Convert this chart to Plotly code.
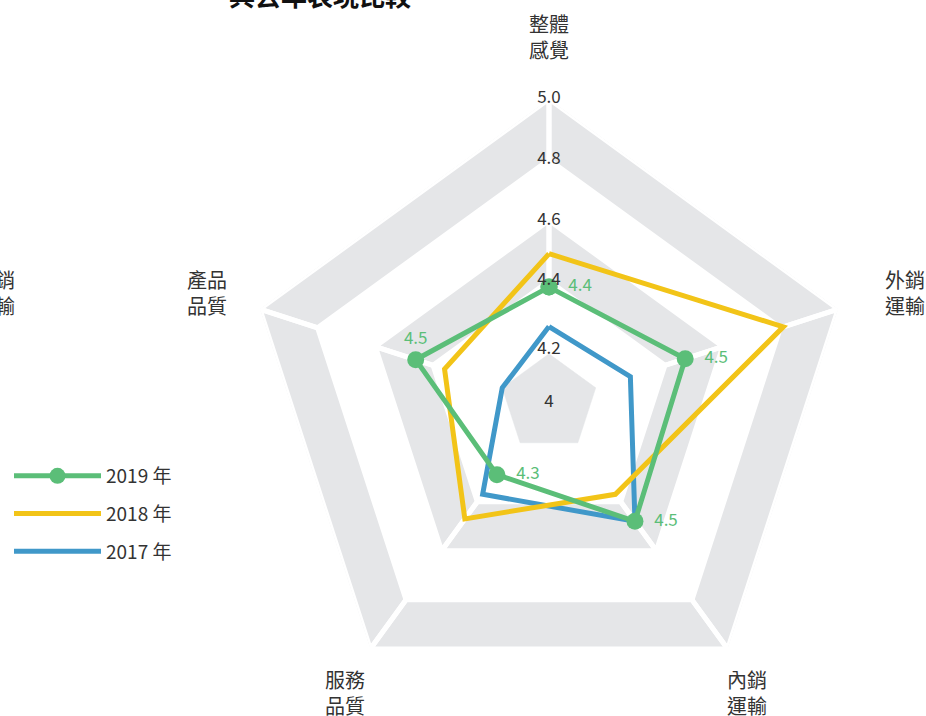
import plotly.graph_objects as go

# ---------------- data ----------------
categories = ["整體感覺", "外銷運輸", "內銷運輸", "服務品質", "產品品質"]
axis_labels = ["整體<br>感覺", "外銷<br>運輸", "內銷<br>運輸", "服務<br>品質", "產品<br>品質"]
series_names = ["2019 年", "2018 年", "2017 年"]
values_2019 = [4.38, 4.47, 4.48, 4.29, 4.46]
values_2018 = [4.49, 4.81, 4.37, 4.47, 4.36]
values_2017 = [4.25, 4.28, 4.48, 4.37, 4.16]
radial_ticks = [4.0, 4.2, 4.4, 4.6, 4.8, 5.0]
radial_tick_labels = ["4", "4.2", "4.4", "4.6", "4.8", "5.0"]
title_text = "與去年表現比較"
cut_label = "外銷<br>運輸"

# ---------------- style ----------------
FONT = "Noto Sans CJK TC"
GRAY = "#e5e6e8"
GREEN = "#5bbe78"
YELLOW = "#f2c418"
BLUE = "#4098c9"
TEXT = "#333333"

W, H = 926, 716
CX, CY, R = 549, 403, 304
RING_BANDS = [(4.8, 5.0), (4.4, 4.6)]
CORE_TOP = 4.16
# pixel centres of the axis name labels
LABEL_POS = [(549, 36), (905, 292), (747, 692), (345, 692), (207, 292)]
TICK_POS = ["middle center", "bottom center", "middle center", "middle center", "middle center", "middle center"]
NB = "\u00a0\u00a0"
LABEL_TEMPLATES = [NB + "%{r:.1f}", NB + "%{r:.1f}", NB + "%{r:.1f}", NB + "%{r:.1f}", "%{r:.1f}", ""]
LABEL_POSITIONS = ["middle right", "middle right", "middle right", "middle right", "top center", "middle right"]

fig = go.Figure()

n = len(categories)
# alternating grey rings, split into trapezoids by white spokes / rings
for lo, hi in RING_BANDS:
    rr, tt = [], []
    for i in range(n):
        a, b = categories[i], categories[(i + 1) % n]
        rr += [lo, hi, hi, lo, lo, None]
        tt += [a, a, b, b, a, None]
    fig.add_trace(go.Scatterpolar(
        r=rr, theta=tt, mode="lines", fill="toself", fillcolor=GRAY,
        line=dict(color="white", width=5), connectgaps=False,
        showlegend=False, hoverinfo="skip",
    ))
# solid inner core
fig.add_trace(go.Scatterpolar(
    r=[CORE_TOP] * (n + 1), theta=categories + [categories[0]],
    mode="lines", fill="toself", fillcolor=GRAY, line=dict(color=GRAY, width=0.5),
    showlegend=False, hoverinfo="skip",
))

def closed(v):
    return list(v) + [v[0]]

fig.add_trace(go.Scatterpolar(
    r=closed(values_2017), theta=closed(categories), mode="lines",
    name=series_names[2], line=dict(color=BLUE, width=5), legendrank=3,
    legendgroup="g2017", hoverinfo="skip",
))
fig.add_trace(go.Scatterpolar(
    r=closed(values_2018), theta=closed(categories), mode="lines",
    name=series_names[1], line=dict(color=YELLOW, width=5), legendrank=2,
    legendgroup="g2018", hoverinfo="skip",
))
fig.add_trace(go.Scatterpolar(
    r=closed(values_2019), theta=closed(categories), mode="lines+markers+text",
    name=series_names[0], line=dict(color=GREEN, width=5),
    marker=dict(color=GREEN, size=17),
    texttemplate=LABEL_TEMPLATES,
    textposition=LABEL_POSITIONS,
    textfont=dict(color=GREEN, size=17, family=FONT),
    legendrank=1, legendgroup="g2019", cliponaxis=False, hoverinfo="skip",
))

# radial tick labels along the top axis
fig.add_trace(go.Scatterpolar(
    r=radial_ticks, theta=[categories[0]] * len(radial_ticks), mode="text",
    text=radial_tick_labels, textposition=TICK_POS,
    textfont=dict(color=TEXT, size=17, family=FONT),
    showlegend=False, cliponaxis=False, hoverinfo="skip",
))

annotations = [
    dict(text="<b>" + title_text + "</b>", xref="paper", yref="paper",
         x=320 / W, y=1 + 5 / H, xanchor="center", yanchor="middle",
         showarrow=False, font=dict(size=26, color="#111111", family=FONT)),
    dict(text=cut_label, xref="paper", yref="paper",
         x=17 / W, y=1 - 292 / H, xanchor="right", yanchor="middle",
         showarrow=False, font=dict(size=20, color=TEXT, family=FONT)),
]
for lab, (px, py) in zip(axis_labels, LABEL_POS):
    annotations.append(dict(
        text=lab, xref="paper", yref="paper", x=px / W, y=1 - py / H,
        xanchor="center", yanchor="middle", showarrow=False,
        font=dict(size=20, color=TEXT, family=FONT),
    ))

fig.update_layout(
    width=W, height=H,
    margin=dict(l=0, r=0, t=0, b=0, pad=0),
    paper_bgcolor="white", plot_bgcolor="white",
    font=dict(family=FONT, color=TEXT, size=17),
    polar=dict(
        domain=dict(x=[(CX - R) / W, (CX + R) / W], y=[1 - (CY + R) / H, 1 - (CY - R) / H]),
        gridshape="linear",
        bgcolor="rgba(0,0,0,0)",
        radialaxis=dict(range=[3.998, 5], visible=False, showgrid=False, showline=False),
        angularaxis=dict(
            type="category", categoryorder="array", categoryarray=categories,
            rotation=90, direction="clockwise",
            showgrid=False, showline=False, showticklabels=False, ticks="",
        ),
    ),
    showlegend=True,
    legend=dict(
        x=9 / W, y=1 - 457 / H, xanchor="left", yanchor="top",
        traceorder="grouped", itemwidth=87, tracegroupgap=10,
        font=dict(size=19, color=TEXT, family=FONT),
        bgcolor="rgba(0,0,0,0)",
    ),
    annotations=annotations,
)

fig.write_html(
    "out.html",
    config={"displayModeBar": False},
    post_script="document.body.style.margin='0';document.body.style.overflow='hidden';",
)
